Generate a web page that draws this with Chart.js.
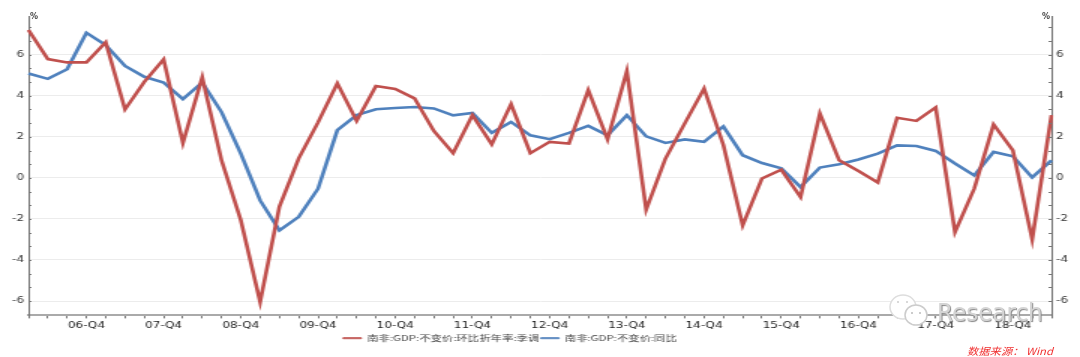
<!DOCTYPE html>
<html>
<head>
<meta charset="utf-8">
<script src="https://cdn.jsdelivr.net/npm/chart.js@4"></script>
<style>
    html, body { margin: 0; padding: 0; background: #fff; overflow: hidden; }
    #wrap { position: relative; width: 1080px; height: 357px; font-family: "DejaVu Sans", sans-serif; }
    #wrap canvas { position: absolute; left: 0; top: 0; }
    .unit { position: absolute; top: 12px; font-size: 8px; font-weight: bold; color: #444; }
    #source { position: absolute; left: 967px; top: 343px; font: italic 10px "Noto Sans CJK SC", sans-serif; color: #f03030; white-space: nowrap; transform: scaleX(1.13); transform-origin: left; }
    #mark { position: absolute; left: 885px; top: 290px; width: 50px; height: 40px; }
    #markText { position: absolute; left: 937px; top: 299px; font: 24px "DejaVu Sans", sans-serif; color: #d4d4d4; text-shadow: 1px 1px 1px #888; white-space: nowrap; transform: scaleX(0.96); transform-origin: left; }
</style>
</head>
<body>
<div id="wrap">
    <!-- the reference is a horizontally stretched image, so the canvas is drawn narrow and stretched the same way -->
    <canvas id="gdpChart" width="720" height="357" style="width:1080px;height:357px"></canvas>
    <div class="unit" style="left:30px">%</div>
    <div class="unit" style="left:1042px">%</div>
    <svg id="mark" viewBox="0 0 50 40">
        <ellipse cx="18" cy="17" rx="13" ry="12" fill="#fff" stroke="#ddd" stroke-width="1.5"/>
        <ellipse cx="31" cy="25" rx="11" ry="10" fill="#fff" stroke="#ccc" stroke-width="1.5"/>
        <circle cx="27" cy="23" r="1" fill="#bbb"/><circle cx="35" cy="23" r="1" fill="#bbb"/>
        <circle cx="13" cy="12" r="1" fill="#ccc"/><circle cx="22" cy="12" r="1" fill="#ccc"/>
    </svg>
    <div id="markText">Research</div>
    <div id="source">数据来源： Wind</div>
</div>
<script>
const quarters = [
    '06-Q1','06-Q2','06-Q3','06-Q4','07-Q1','07-Q2','07-Q3','07-Q4','08-Q1','08-Q2','08-Q3','08-Q4',
    '09-Q1','09-Q2','09-Q3','09-Q4','10-Q1','10-Q2','10-Q3','10-Q4','11-Q1','11-Q2','11-Q3','11-Q4',
    '12-Q1','12-Q2','12-Q3','12-Q4','13-Q1','13-Q2','13-Q3','13-Q4','14-Q1','14-Q2','14-Q3','14-Q4',
    '15-Q1','15-Q2','15-Q3','15-Q4','16-Q1','16-Q2','16-Q3','16-Q4','17-Q1','17-Q2','17-Q3','17-Q4',
    '18-Q1','18-Q2','18-Q3','18-Q4','19-Q1','19-Q2'
];
const qoqAnnualized = [
    7.2, 5.78, 5.62, 5.62, 6.6, 3.33, 4.67, 5.77, 1.7, 4.9, 0.85, -2.07,
    -6.05, -1.4, 0.95, 2.7, 4.6, 2.77, 4.47, 4.33, 3.87, 2.28, 1.2, 3.05,
    1.63, 3.59, 1.2, 1.75, 1.67, 4.27, 1.87, 5.2, -1.55, 0.94, 2.65, 4.35,
    1.6, -2.32, -0.03, 0.4, -0.94, 3.13, 0.85, 0.33, -0.23, 2.92, 2.77, 3.43,
    -2.64, -0.52, 2.6, 1.34, -3.0, 3.05
];
const yoy = [
    5.08, 4.82, 5.29, 7.06, 6.46, 5.45, 4.92, 4.64, 3.83, 4.64, 3.2, 1.18,
    -1.1, -2.56, -1.9, -0.53, 2.32, 3.05, 3.34, 3.4, 3.45, 3.38, 3.04, 3.16,
    2.19, 2.72, 2.07, 1.88, 2.19, 2.53, 2.07, 3.05, 2.02, 1.7, 1.87, 1.75,
    2.5, 1.1, 0.72, 0.46, -0.45, 0.5, 0.66, 0.89, 1.18, 1.58, 1.55, 1.31,
    0.7, 0.12, 1.26, 1.05, 0.02, 0.85
];
const yTicks = [-6, -4, -2, 0, 2, 4, 6];
const yMinorTicks = [-6, -5.33, -4.67, -4, -3.33, -2.67, -2, -1.33, -0.67, 0, 0.67, 1.33, 2, 2.67, 3.33, 4, 4.67, 5.33, 6, 6.67, 7.33];

const tickFont = { family: '"DejaVu Sans", sans-serif', size: 8 };

// small ticks point inwards on both value axes, the library only draws them outwards
const innerTicks = {
    id: 'innerTicks',
    afterLayout(chart) {
        // legend sits left of centre in the reference
        chart.legend.left -= 20;
        chart.legend.right -= 20;
    },
    afterDatasetsDraw(chart) {
        const { ctx, scales, chartArea } = chart;
        ctx.save();
        ctx.strokeStyle = '#777';
        ctx.lineWidth = 1;
        ctx.beginPath();
        yMinorTicks.forEach(v => {
            const y = Math.round(scales.y.getPixelForValue(v)) + 0.5;
            ctx.moveTo(chartArea.left, y);
            ctx.lineTo(chartArea.left + 2, y);
            ctx.moveTo(chartArea.right, y);
            ctx.lineTo(chartArea.right - 2, y);
        });
        ctx.stroke();
        ctx.restore();
    }
};

function valueAxis(position) {
    return {
        position: position,
        min: -6.7,
        max: 7.88,
        afterBuildTicks: axis => { axis.ticks = yTicks.map(v => ({ value: v })); },
        afterFit: axis => { axis.width = 19; },
        border: { color: '#777' },
        grid: {
            color: '#ececec',
            drawOnChartArea: position === 'left',
            drawTicks: false
        },
        ticks: { color: '#333', font: tickFont, padding: 3 }
    };
}

new Chart(document.getElementById('gdpChart'), {
    type: 'line',
    data: {
        labels: quarters,
        datasets: [{
            label: '南非:GDP:不变价:环比折年率:季调',
            data: qoqAnnualized,
            borderColor: '#c0504d',
            borderWidth: 2.6,
            pointRadius: 0,
            tension: 0,
            yAxisID: 'y'
        }, {
            label: '南非:GDP:不变价:同比',
            data: yoy,
            borderColor: '#4f81bd',
            borderWidth: 2.6,
            pointRadius: 0,
            tension: 0,
            yAxisID: 'y'
        }]
    },
    options: {
        responsive: false,
        animation: false,
        layout: { padding: { top: 16, bottom: 5 } },
        plugins: {
            tooltip: { enabled: false },
            legend: {
                position: 'bottom',
                labels: {
                    color: '#444',
                    font: { family: '"Noto Sans CJK SC", sans-serif', size: 7.6 },
                    boxWidth: 12.2,
                    boxHeight: 1,
                    padding: 1,
                    generateLabels: chart => Chart.defaults.plugins.legend.labels.generateLabels(chart)
                        .map(item => ({ ...item, lineWidth: 1 }))
                }
            }
        },
        scales: {
            x: {
                offset: false,
                afterFit: axis => { axis.height = 18; },
                border: { color: '#aaa', width: 2 },
                grid: { drawOnChartArea: false, tickLength: 3, tickColor: '#777' },
                ticks: {
                    color: '#222',
                    font: tickFont,
                    autoSkip: false,
                    maxRotation: 0,
                    padding: 3,
                    callback: function(value) {
                        const label = this.getLabelForValue(value);
                        return label.endsWith('Q4') ? label : '';
                    }
                }
            },
            y: valueAxis('left'),
            y2: valueAxis('right')
        }
    },
    plugins: [innerTicks]
});
</script>
</body>
</html>
